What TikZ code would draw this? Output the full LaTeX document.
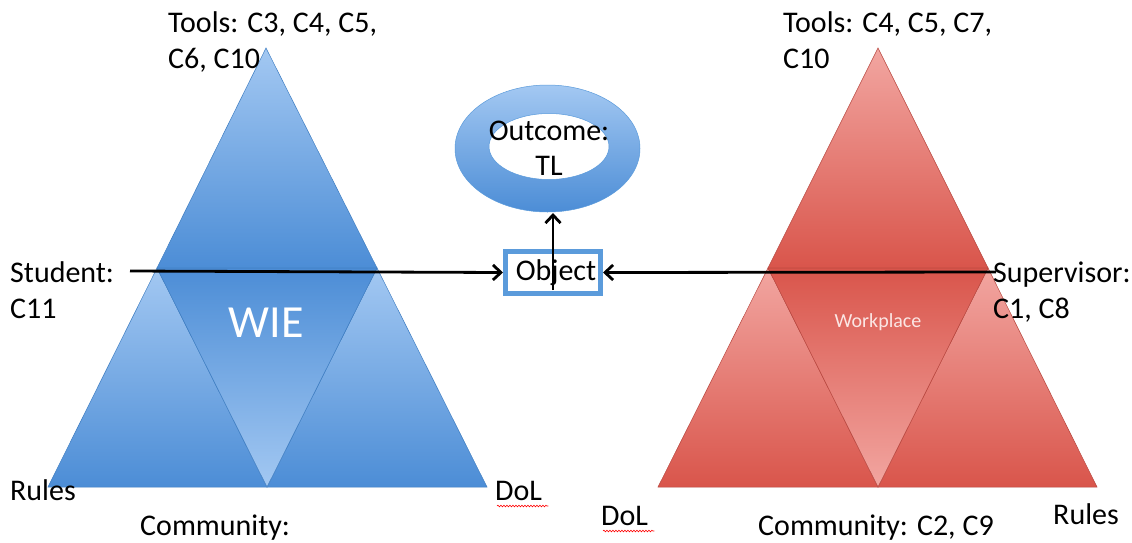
\documentclass[tikz,border=0pt]{standalone}
\usepackage{fontspec}
\setmainfont{Carlito}
\usetikzlibrary{arrows.meta,decorations.pathmorphing,calc}
\definecolor{bluelight}{HTML}{A3C8F2}
\definecolor{bluedark}{HTML}{4C8DD6}
\definecolor{blueedge}{HTML}{3F7EC2}
\definecolor{redlight}{HTML}{F2A6A1}
\definecolor{reddark}{HTML}{D9554B}
\definecolor{rededge}{HTML}{B8473F}
\definecolor{objblue}{HTML}{5B9BDB}
\definecolor{wpwhite}{HTML}{FBE6E4}
\begin{document}
\begin{tikzpicture}[x=1pt,y=-1pt,
  lbl/.style={font=\fontsize{30}{36}\selectfont, inner sep=0pt, align=left, anchor=base west},
  btri/.style={draw=blueedge, line width=0.5pt, top color=bluelight, bottom color=bluedark},
  btriinv/.style={draw=blueedge, line width=0.5pt, top color=bluedark, bottom color=bluelight},
  rtri/.style={draw=rededge, line width=0.5pt, top color=redlight, bottom color=reddark},
  rtriinv/.style={draw=rededge, line width=0.5pt, top color=reddark, bottom color=redlight},
  arr/.style={line width=2.8pt, -{Straight Barb[length=8pt,width=15pt]}},
  squiggle/.style={draw=red, line width=0.6pt, decorate, decoration={snake, amplitude=0.8pt, segment length=3pt}}
]
\useasboundingbox (0,0) rectangle (1132,542);
\fill[white] (0,0) rectangle (1132,542);

% left (blue) activity triangle
\path[btri] (266,48) -- (157,268) -- (377,268) -- cycle;
\path[btri] (157,268) -- (48,487) -- (267,487) -- cycle;
\path[btri] (377,268) -- (267,487) -- (487,487) -- cycle;
\path[btriinv] (157,268) -- (377,268) -- (267,487) -- cycle;
\node[font=\fontsize{46}{50}\selectfont, text=white, inner sep=0pt] (wie) at (266,323) {WIE};

% right (red) activity triangle
\path[rtri] (878,48) -- (768,268) -- (988,268) -- cycle;
\path[rtri] (768,268) -- (658,487) -- (878,487) -- cycle;
\path[rtri] (988,268) -- (878,487) -- (1097,487) -- cycle;
\path[rtriinv] (768,268) -- (988,268) -- (878,487) -- cycle;
\node[font=\fontsize{20}{24}\selectfont, text=wpwhite, inner sep=0pt] (wp) at (878,322) {Workplace};

% outcome ring
\path[even odd rule, top color=bluelight, bottom color=bluedark, draw=objblue, line width=0.5pt]
  (547.5,148.5) ellipse [x radius=92.5, y radius=63.5]
  (549,146.5) ellipse [x radius=60, y radius=33];
\node[font=\fontsize{30}{35}\selectfont, inner sep=0pt, align=center] (outc) at (549,148) {Outcome:\\TL};
\coordinate (ringbottom) at (553,213);

% object
\node[draw=objblue, line width=5pt, fill=white, minimum width=95pt, minimum height=42pt, inner sep=0pt] (obj) at (553,272.5) {};
\node[font=\fontsize{30}{36}\selectfont, inner sep=0pt] (objtext) at (556,273) {Object};

% labels (base = baseline of last line)
\node[lbl] (toolsL) at (168,68) {Tools: C3, C4, C5,\\C6, C10};
\node[lbl] (toolsR) at (783,68) {Tools: C4, C5, C7,\\C10};
\node[lbl] (student) at (10,318) {Student:\\C11};
\node[lbl] (super) at (993,318) {Supervisor:\\C1, C8};
\node[lbl] (rulesL) at (10,500) {Rules};
\node[lbl] (dolL) at (495,500) {DoL};
\node[lbl] (commL) at (140,535) {Community:};
\node[lbl] (dolR) at (601,525) {DoL};
\node[lbl] (commR) at (758,535) {Community: C2, C9};
\node[lbl] (rulesR) at (1053,524) {Rules};
\path[squiggle] ($(dolL.base west)+(2,6)$) -- ($(dolL.base east)+(6,6)$);
\path[squiggle] ($(dolR.base west)+(2,6)$) -- ($(dolR.base east)+(6,6)$);

% connectors
\coordinate (sa) at (130,271);
\coordinate (sb) at (996,272);
\coordinate (objstem) at (553,290);
\draw[arr] (sa) -- (obj.west);
\draw[arr] (sb) -- (obj.east);
\draw[arr] (objstem) -- (ringbottom);
\end{tikzpicture}
\end{document}
